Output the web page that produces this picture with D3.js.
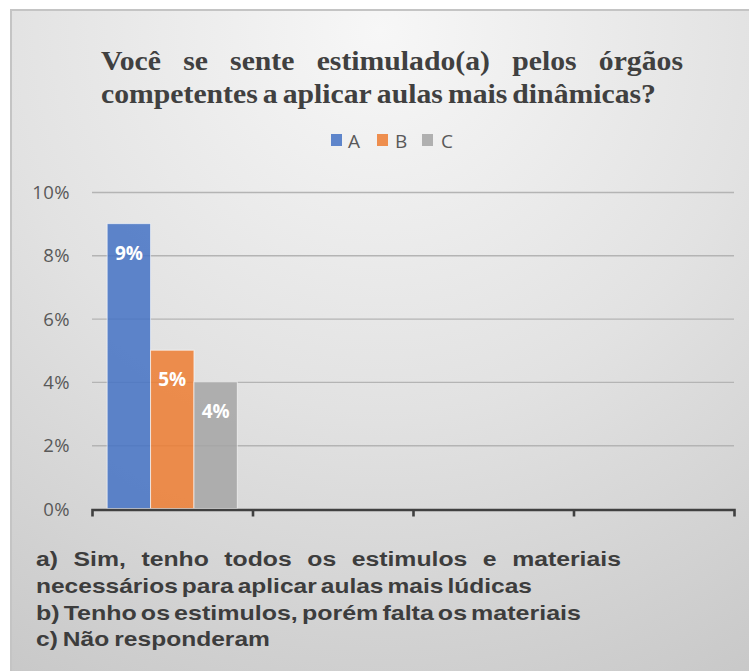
<!DOCTYPE html>
<html>
<head>
<meta charset="utf-8">
<script src="https://cdn.jsdelivr.net/npm/d3@7"></script>
<style>
  html, body { margin: 0; padding: 0; background: #ffffff; }
  svg { display: block; }
</style>
</head>
<body>
<svg id="chart" width="749" height="671"></svg>
<script>
// ---- data ----
const categories = ["1", "2", "3", "4"];
const seriesNames = ["A", "B", "C"];
const seriesA = [9, null, null, null];
const seriesB = [5, null, null, null];
const seriesC = [4, null, null, null];
const seriesColors = ["#4472C4", "#ED7D31", "#A5A5A5"];
const yTicks = [0, 2, 4, 6, 8, 10];
const titleLines = [
  "Você se sente estimulado(a) pelos órgãos",
  "competentes a aplicar aulas mais dinâmicas?"
];
const captionLines = [
  "a) Sim, tenho todos os estimulos e materiais",
  "necessários para aplicar aulas mais lúdicas",
  "b) Tenho os estimulos, porém falta os materiais",
  "c) Não responderam"
];

const svg = d3.select("#chart");
const W = 749, H = 671;

// ---- background box ----
const defs = svg.append("defs");
const rg = defs.append("radialGradient").attr("id", "bg")
  .attr("gradientUnits", "userSpaceOnUse")
  .attr("cx", 380).attr("cy", 30).attr("r", 760);
rg.append("stop").attr("offset", 0).attr("stop-color", "#f7f7f7");
rg.append("stop").attr("offset", 0.5).attr("stop-color", "#e2e2e2");
rg.append("stop").attr("offset", 1).attr("stop-color", "#c7c7c7");

svg.append("rect").attr("x", 10).attr("y", 9).attr("width", W - 10).attr("height", H - 9)
  .attr("fill", "#c4c4c4");
svg.append("rect").attr("x", 12).attr("y", 11).attr("width", W - 12).attr("height", H - 11)
  .attr("fill", "url(#bg)");

// ---- scales ----
const plot = { left: 92, right: 734, top: 192, bottom: 508.5 };
const y = d3.scaleLinear().domain([0, 10]).range([plot.bottom, plot.top]);
const x0 = d3.scaleBand().domain(categories).range([plot.left, plot.right]).paddingInner(0).paddingOuter(0);
const x1 = d3.scaleBand().domain(seriesNames).range([0, x0.bandwidth()]).paddingInner(0).paddingOuter(0.35);
const xEdge = d3.scaleLinear().domain([0, categories.length]).range([plot.left, plot.right]);
const color = d3.scaleOrdinal().domain(seriesNames).range(seriesColors);

// ---- gridlines ----
const grid = svg.append("g").attr("transform", `translate(${plot.left},0)`)
  .call(d3.axisLeft(y).tickValues(yTicks.filter(d => d > 0)).tickSize(-(plot.right - plot.left)).tickFormat(""));
grid.select(".domain").remove();
grid.selectAll("line").attr("stroke", "#b4b4b4").attr("stroke-width", 1.4);

// ---- y labels ----
const yAx = svg.append("g").attr("transform", `translate(70,0)`)
  .call(d3.axisLeft(y).tickValues(yTicks).tickSize(0).tickPadding(0).tickFormat(d => d + "%"));
yAx.select(".domain").remove();
yAx.selectAll("text").attr("font-family", "'Open Sans', sans-serif").attr("font-size", "18.5px")
  .attr("letter-spacing", "0.4px")
  .attr("fill", "#595959").attr("dy", "0.36em");

// ---- bars ----
const allSeries = [seriesA, seriesB, seriesC];
const rows = [];
categories.forEach((c, i) => {
  seriesNames.forEach((s, j) => {
    const v = allSeries[j][i];
    if (v != null) rows.push({ cat: c, series: s, value: v });
  });
});
const bars = svg.append("g");
bars.selectAll("rect").data(rows).join("rect")
  .attr("x", d => x0(d.cat) + x1(d.series))
  .attr("y", d => y(d.value))
  .attr("width", x1.bandwidth())
  .attr("height", d => y(0) - y(d.value))
  .attr("fill", d => color(d.series))
  .attr("fill-opacity", 0.85)
  .attr("stroke", "#ffffff").attr("stroke-opacity", 0.6).attr("stroke-width", 1);

bars.selectAll("text").data(rows).join("text")
  .attr("x", d => x0(d.cat) + x1(d.series) + x1.bandwidth() / 2)
  .attr("y", d => y(d.value) + 36)
  .attr("text-anchor", "middle")
  .attr("font-family", "'Open Sans', sans-serif").attr("font-weight", "bold")
  .attr("font-size", "19px").attr("fill", "#ffffff")
  .text(d => d.value + "%");

// ---- x axis ----
const xAx = svg.append("g").attr("transform", `translate(0,${plot.bottom + 1})`)
  .call(d3.axisBottom(xEdge).tickValues(d3.range(1, categories.length)).tickSizeInner(7).tickSizeOuter(7).tickFormat(""));
xAx.select(".domain").attr("stroke", "#404040").attr("stroke-width", 2.6);
xAx.selectAll(".tick line").attr("stroke", "#404040").attr("stroke-width", 2.6);

// ---- legend ----
const legendItems = [
  { name: seriesNames[0], sx: 331, tx: 348 },
  { name: seriesNames[1], sx: 377, tx: 395 },
  { name: seriesNames[2], sx: 422, tx: 441 }
];
const lg = svg.append("g");
legendItems.forEach(it => {
  lg.append("rect").attr("x", it.sx).attr("y", 134).attr("width", 11).attr("height", 12)
    .attr("fill", color(it.name)).attr("fill-opacity", 0.85);
  lg.append("text").attr("x", it.tx).attr("y", 147.5)
    .attr("font-family", "'Open Sans', sans-serif").attr("font-size", "19px")
    .attr("fill", "#595959").text(it.name);
});

// ---- text helpers ----
function measure(g, words, font) {
  const tmp = g.append("text").attr("font-family", font.family).attr("font-size", font.size)
    .attr("font-weight", font.weight);
  const widths = words.map(w => { tmp.text(w); return tmp.node().getComputedTextLength(); });
  tmp.remove();
  return widths;
}
// place words of a line between x0p and x1p; words condensed by sx, gaps fill the rest
function placeLine(g, text, x0p, x1p, yb, font, sx) {
  const words = text.split(" ");
  const widths = measure(g, words, font);
  const wordsW = d3.sum(widths) * sx;
  const gap = (x1p - x0p - wordsW) / Math.max(1, words.length - 1);
  let cx = x0p;
  words.forEach((w, i) => {
    g.append("text")
      .attr("transform", `translate(${cx},${yb}) scale(${sx},1)`)
      .attr("font-family", font.family).attr("font-size", font.size)
      .attr("font-weight", font.weight).attr("fill", font.fill)
      .text(w);
    cx += widths[i] * sx + gap;
  });
}
function scaleFor(g, text, span, gapW, font) {
  const words = text.split(" ");
  const w = d3.sum(measure(g, words, font));
  return (span - gapW * (words.length - 1)) / w;
}

// ---- title ----
const tg = svg.append("g");
const titleFont = { family: "'Liberation Serif', 'Times New Roman', serif", size: "28px", weight: "bold", fill: "#404040" };
const tScale = scaleFor(tg, titleLines[1], 656 - 101, 5, titleFont);
placeLine(tg, titleLines[0], 101, 683, 70, titleFont, tScale);
placeLine(tg, titleLines[1], 101, 656, 103, titleFont, tScale);

// ---- caption ----
const cg = svg.append("g");
const capFont = { family: "'Liberation Sans', Arial, sans-serif", size: "21px", weight: "bold", fill: "#3d3d3d" };
const capEnds = [621, 532, 581, 270];
const capBase = [566, 593, 619.5, 646];
const capGap = 4;
const s2 = scaleFor(cg, captionLines[1], capEnds[1] - 36, capGap, capFont);
const s3 = scaleFor(cg, captionLines[2], capEnds[2] - 36, capGap, capFont);
const s4 = scaleFor(cg, captionLines[3], capEnds[3] - 36, 5, capFont);
const capScales = [(s2 + s3) / 2, s2, s3, s4];
captionLines.forEach((line, i) => {
  placeLine(cg, line, 36, capEnds[i], capBase[i], capFont, capScales[i]);
});
</script>
</body>
</html>
